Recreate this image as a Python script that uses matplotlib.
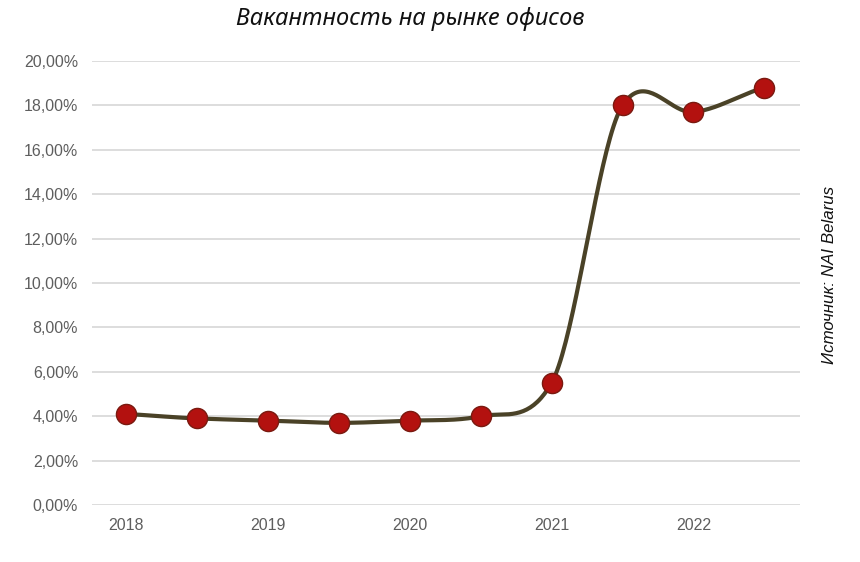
import numpy as np
import matplotlib
matplotlib.use('Agg')
import matplotlib.pyplot as plt

# vacancy rate, half-year steps
periods = [2018.0, 2018.5, 2019.0, 2019.5, 2020.0, 2020.5, 2021.0, 2021.5, 2022.0, 2022.5]
vacancy = [4.1, 3.9, 3.8, 3.7, 3.8, 4.0, 5.5, 18.0, 17.7, 18.8]
year_ticks = [2018, 2019, 2020, 2021, 2022]
y_ticks = [0, 2, 4, 6, 8, 10, 12, 14, 16, 18, 20]


def smooth(x, y, k=0.4, n=40):
    # cardinal spline through the points
    x = np.asarray(x, float)
    y = np.asarray(y, float)
    m = np.zeros_like(y)
    m[1:-1] = k * (y[2:] - y[:-2])
    m[0] = k * 2 * (y[1] - y[0])
    m[-1] = k * 2 * (y[-1] - y[-2])
    xs, ys = [], []
    for i in range(len(x) - 1):
        t = np.linspace(0, 1, n, endpoint=False)
        h00 = 2 * t**3 - 3 * t**2 + 1
        h10 = t**3 - 2 * t**2 + t
        h01 = -2 * t**3 + 3 * t**2
        h11 = t**3 - t**2
        xs.append(x[i] + t * (x[i + 1] - x[i]))
        ys.append(h00 * y[i] + h10 * m[i] + h01 * y[i + 1] + h11 * m[i + 1])
    xs.append([x[-1]])
    ys.append([y[-1]])
    return np.concatenate(xs), np.concatenate(ys)


fig = plt.figure(figsize=(8.6, 5.62), dpi=100)
ax = fig.add_axes([0.107, 0.1014, 0.823, 0.7901])

sx, sy = smooth(periods, vacancy)
ax.plot(sx, sy, color='#4a4227', lw=3.0, zorder=3, solid_capstyle='round')
ax.plot(periods, vacancy, 'o', ms=14.5, mfc='#b3110f', mec='#7a1a10', mew=1, zorder=4)

ax.set_xlim(2017.76, 2022.75)
ax.set_ylim(0, 20)
ax.set_xticks(year_ticks)
ax.set_xticklabels([str(y) for y in year_ticks])
ax.set_yticks(y_ticks)
ax.set_yticklabels([f'{v:.2f}%'.replace('.', ',') for v in y_ticks])
ax.tick_params(length=0, colors='#5e5e5e', labelsize=11.5, labelfontfamily='Liberation Sans')
ax.tick_params(axis='y', pad=10)
ax.tick_params(axis='x', pad=9)
ax.grid(axis='y', color='#dadada', lw=1.3)
ax.set_axisbelow(True)
for s in ax.spines.values():
    s.set_visible(False)

fig.text(0.477, 0.966, 'Вакантность на рынке офисов', ha='center', va='center',
         fontsize=17, style='italic', family='Noto Sans', color='#111111')
fig.text(0.964, 0.511, 'Источник: NAI Belarus', rotation=90, ha='center', va='center',
         fontsize=12.2, style='italic', family='Liberation Sans', color='#111111')

fig.savefig('out.png', dpi=100)
